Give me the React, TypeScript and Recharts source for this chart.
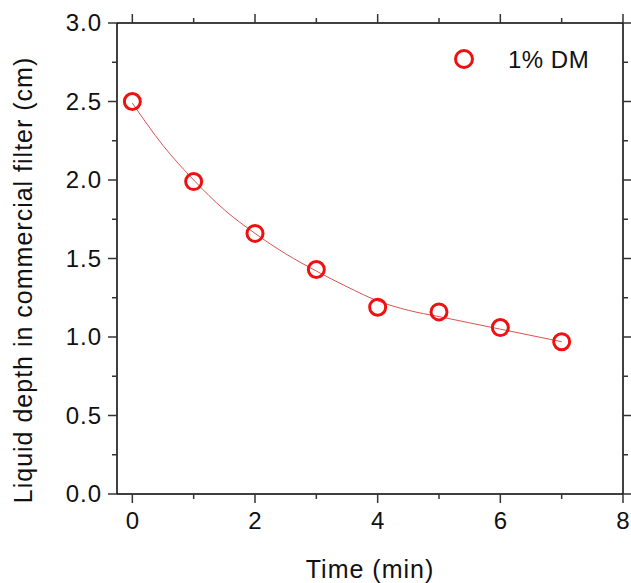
import React from 'react';
import { ComposedChart, Line, Scatter, XAxis, YAxis } from 'recharts';

// measured points (1% DM)
const times = [0, 1, 2, 3, 4, 5, 6, 7];
const depths = [2.5, 1.99, 1.66, 1.43, 1.19, 1.16, 1.06, 0.97];

// fitted curve
const fitTimes = [0, 0.5, 1, 1.5, 2, 2.5, 3, 3.5, 4, 4.5, 5, 5.5, 6, 6.5, 7];
const fitDepths = [2.49, 2.22, 2.0, 1.81, 1.66, 1.53, 1.42, 1.32, 1.23, 1.17, 1.13, 1.09, 1.05, 1.01, 0.97];

const xMajor = [0, 2, 4, 6, 8];
const xTicks = [0, 1, 2, 3, 4, 5, 6, 7, 8];
const yMajor = [0, 0.5, 1, 1.5, 2, 2.5, 3];
const yTicks = [0, 0.25, 0.5, 0.75, 1, 1.25, 1.5, 1.75, 2, 2.25, 2.5, 2.75, 3];

const seriesName = '1% DM';
const xTitle = 'Time (min)';
const yTitle = 'Liquid depth in commercial filter (cm)';

const points = times.map((t, i) => ({ x: t, depth: depths[i] }));
const fit = fitTimes.map((t, i) => ({ x: t, fit: fitDepths[i] }));

const RED = '#ee1111';
const FONT = '"Liberation Sans", Arial, sans-serif';

const makeTick = (side: 'bottom' | 'top' | 'left' | 'right', majors: number[], labels: boolean, fmt: (v: number) => string) =>
  (props: any) => {
    const { x, y, payload } = props;
    const v = payload.value;
    const major = majors.some((m) => Math.abs(m - v) < 1e-9);
    const len = major ? 9 : 5;
    let line;
    if (side === 'bottom') line = <line x1={x} y1={y} x2={x} y2={y + len} />;
    else if (side === 'top') line = <line x1={x} y1={y} x2={x} y2={y - len} />;
    else if (side === 'left') line = <line x1={x} y1={y} x2={x - len} y2={y} />;
    else line = <line x1={x} y1={y} x2={x + len} y2={y} />;
    return (
      <g>
        <g stroke="#333" strokeWidth={1.5}>{line}</g>
        {labels && major && side === 'bottom' && (
          <text x={x} y={y + 35} textAnchor="middle" fontFamily={FONT} fontSize={24} fill="#111">
            {fmt(v)}
          </text>
        )}
        {labels && major && side === 'left' && (
          <text x={x - 15} y={y + 8} textAnchor="end" fontFamily={FONT} fontSize={24} letterSpacing={1} fill="#111">
            {fmt(v)}
          </text>
        )}
      </g>
    );
  };

const Dot = (props: any) => (
  <circle cx={props.cx} cy={props.cy} r={8} fill="none" stroke={RED} strokeWidth={3} />
);

const axisLine = { stroke: '#000', strokeWidth: 1.5 };

export default function App() {
  return (
    <div style={{ position: 'absolute', left: 0, top: 0, width: 631, height: 583, background: '#fff' }}>
      <ComposedChart width={631} height={583} margin={{ top: 22, right: 7, bottom: 88, left: 116 }}>
        <XAxis
          xAxisId="b"
          type="number"
          dataKey="x"
          domain={[-0.25, 8]}
          ticks={xTicks}
          interval={0}
          height={1}
          tickSize={0}
          tickMargin={0}
          tickLine={false}
          axisLine={axisLine}
          tick={makeTick('bottom', xMajor, true, (v) => String(v))}
        />
        <XAxis
          xAxisId="t"
          orientation="top"
          type="number"
          dataKey="x"
          domain={[-0.25, 8]}
          ticks={xTicks}
          interval={0}
          height={1}
          tickSize={0}
          tickMargin={0}
          tickLine={false}
          axisLine={axisLine}
          tick={makeTick('top', xMajor, false, (v) => String(v))}
        />
        <YAxis
          yAxisId="l"
          type="number"
          domain={[0, 3]}
          ticks={yTicks}
          interval={0}
          width={1}
          tickSize={0}
          tickMargin={0}
          tickLine={false}
          axisLine={axisLine}
          tick={makeTick('left', yMajor, true, (v) => v.toFixed(1))}
        />
        <YAxis
          yAxisId="r"
          orientation="right"
          type="number"
          domain={[0, 3]}
          ticks={yTicks}
          interval={0}
          width={1}
          tickSize={0}
          tickMargin={0}
          tickLine={false}
          axisLine={axisLine}
          tick={makeTick('right', yMajor, false, (v) => v.toFixed(1))}
        />
        <Line
          xAxisId="b"
          yAxisId="l"
          data={fit}
          dataKey="fit"
          type="monotone"
          stroke="#d9534f"
          strokeWidth={1}
          dot={false}
          activeDot={false}
          isAnimationActive={false}
        />
        <Scatter
          xAxisId="b"
          yAxisId="l"
          data={points}
          dataKey="depth"
          name={seriesName}
          shape={Dot}
          isAnimationActive={false}
        />
        <Line
          xAxisId="t"
          yAxisId="r"
          data={points}
          dataKey="depth"
          stroke="none"
          dot={false}
          activeDot={false}
          isAnimationActive={false}
        />
      </ComposedChart>
      <svg width={631} height={583} style={{ position: 'absolute', left: 0, top: 0, pointerEvents: 'none' }}>
        <circle cx={464} cy={59} r={8.5} fill="none" stroke={RED} strokeWidth={3} />
        <text x={508} y={68} fontFamily={FONT} fontSize={24} letterSpacing={0.5} fill="#111">
          {seriesName}
        </text>
        <text x={370} y={578} textAnchor="middle" fontFamily={FONT} fontSize={25} letterSpacing={1} fill="#111">
          {xTitle}
        </text>
        <text
          x={0}
          y={0}
          transform="translate(32, 280) rotate(-90)"
          textAnchor="middle"
          fontFamily={FONT}
          fontSize={25}
          letterSpacing={1}
          fill="#111"
        >
          {yTitle}
        </text>
      </svg>
    </div>
  );
}
